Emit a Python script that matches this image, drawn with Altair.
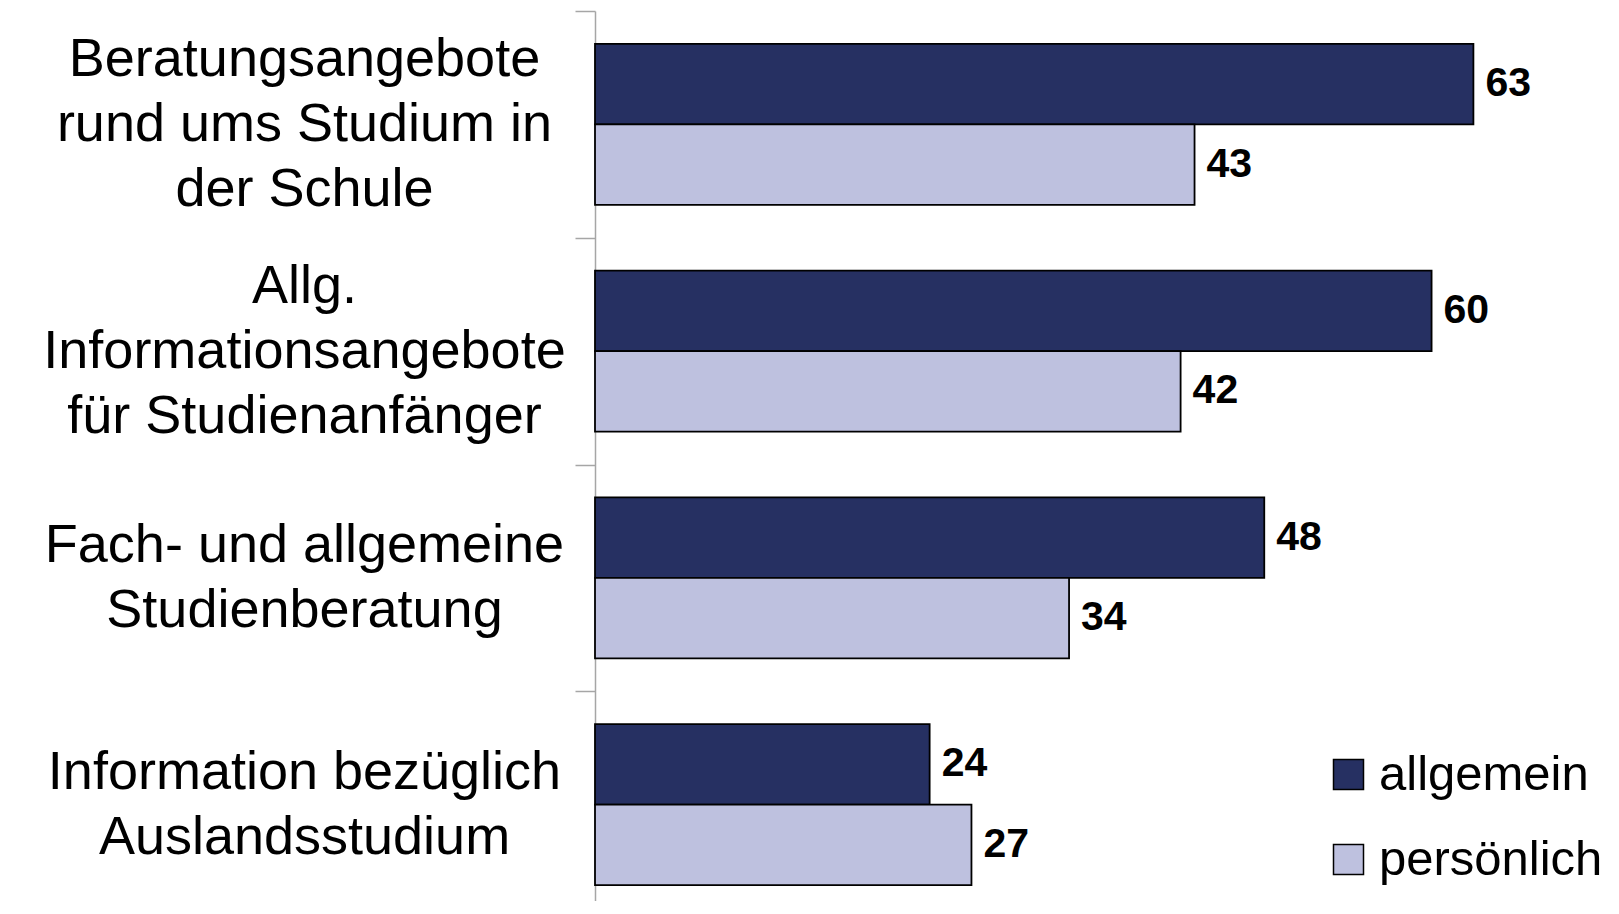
import altair as alt
import pandas as pd

categories = [
    "Beratungsangebote\nrund ums Studium in\nder Schule",
    "Allg.\nInformationsangebote\nfür Studienanfänger",
    "Fach- und allgemeine\nStudienberatung",
    "Information bezüglich\nAuslandsstudium",
]
series = ["allgemein", "persönlich"]
allgemein = [63, 60, 48, 24]
persoenlich = [43, 42, 34, 27]
colors = ["#263062", "#BEC1DF"]

rows = []
for c, a, p in zip(categories, allgemein, persoenlich):
    rows.append({"cat": c, "serie": series[0], "wert": a})
    rows.append({"cat": c, "serie": series[1], "wert": p})
df = pd.DataFrame(rows)

FONT = "Liberation Sans, Arial, sans-serif"

y_enc = alt.Y(
    "cat:N",
    sort=categories,
    title=None,
    scale=alt.Scale(paddingInner=0, paddingOuter=0, range=[0, 907]),
    axis=alt.Axis(
        labelExpr="split(datum.label, '\\n')",
        labelAlign="center",
        labelBaseline="middle",
        labelFontSize=54,
        labelFont=FONT,
        labelColor="#000000",
        labelLineHeight=65,
        labelLimit=700,
        labelPadding=271,
        labelOffset={
            "condition": {"test": "length(split(datum.label, '\\n')) >= 3", "value": -65},
            "value": -32.5,
        },
        labelOverlap=False,
        tickSize=20,
        tickBand="extent",
        tickColor="#A6A6A6",
        tickWidth=1.5,
        domainColor="#A6A6A6",
        domainWidth=1.5,
        grid=False,
    ),
)
yoff = alt.YOffset("serie:N", sort=series, scale=alt.Scale(paddingInner=0, paddingOuter=0.408))
x_enc = alt.X("wert:Q", axis=None, scale=alt.Scale(domain=[0, 70], nice=False))

bars = alt.Chart(df).mark_bar(stroke="#000000", strokeWidth=1.8).encode(
    y=y_enc,
    yOffset=yoff,
    x=x_enc,
    color=alt.Color(
        "serie:N",
        sort=series,
        scale=alt.Scale(domain=series, range=colors),
        legend=alt.Legend(
            title=None,
            orient="none",
            legendX=729,
            legendY=739,
            symbolType="square",
            symbolSize=900,
            symbolStrokeColor="#000000",
            symbolStrokeWidth=1.5,
            symbolOpacity=1,
            labelFontSize=49,
            labelFont=FONT,
            labelColor="#000000",
            labelOffset=6,
            rowPadding=35,
            padding=0,
            labelLimit=400,
        ),
    ),
)

labels = alt.Chart(df).mark_text(
    align="left", baseline="middle", dx=12, fontSize=41, fontWeight="bold",
    font=FONT, color="#000000",
).encode(
    y=alt.Y("cat:N", sort=categories),
    yOffset=yoff,
    x=x_enc,
    text=alt.Text("wert:Q", format="d"),
)

chart = (bars + labels).properties(
    width=976,
    height=890,
    autosize=alt.AutoSizeParams(type="none"),
    padding={"left": 587, "top": 3, "right": 37, "bottom": 0},
).configure_view(stroke=None)

chart.save("out.html", embed_options={"renderer": "svg", "actions": False})
